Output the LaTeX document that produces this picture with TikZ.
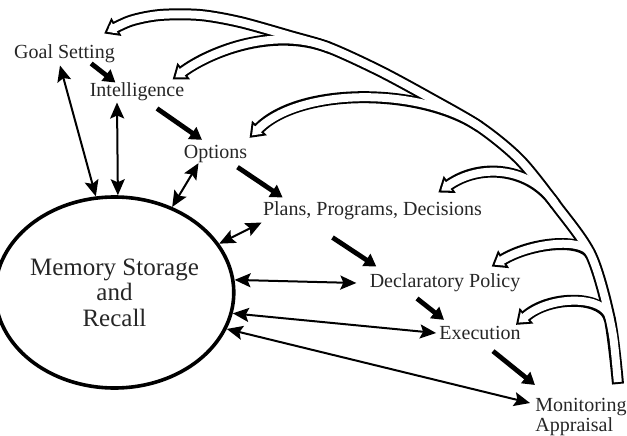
\documentclass[tikz,border=0pt]{standalone}
\usepackage{fontspec}
\setmainfont{Liberation Serif}
\usetikzlibrary{arrows.meta,shapes.geometric}

\tikzset{
  lbl/.style={inner sep=0pt, font=\fontsize{10}{9}\selectfont, text=black!85},
  flow/.style={line width=2.4pt, -{Triangle[length=6pt,width=7pt]}},
  link/.style={line width=1pt, {Stealth[length=8pt,width=7pt,inset=1.5pt]}-{Stealth[length=8pt,width=7pt,inset=1.5pt]}},
  fbout/.style={line width=6pt, -{Triangle[length=7pt,width=10pt]}},
  fbin/.style={white, line width=4pt, shorten <=1pt, shorten >=1.72pt, -{Triangle[length=4.28pt,width=6.1pt]}}
}

\begin{document}
\begin{tikzpicture}[x=0.5pt,y=0.5pt]
\useasboundingbox (0,0) rectangle (627,435);

\node[lbl] (goal) at (64.5,381) {Goal Setting};
\node[lbl] (intel) at (137,343) {Intelligence};
\node[lbl] (options) at (215.5,281) {Options};
\node[lbl] (plans) at (372.5,224) {Plans, Programs, Decisions};
\node[lbl] (decl) at (445,152) {Declaratory Policy};
\node[lbl] (exec) at (480,102) {Execution};
\node[lbl, align=left, anchor=north west] (monit) at (535,37) {Monitoring\\Appraisal};
\node[draw, ellipse, line width=1.8pt, minimum width=105.5pt, minimum height=95.5pt, inner sep=0pt,
      align=center, text=black!85, font=\fontsize{12.5}{12.75}\selectfont] (mem) at (114.5,142.5)
      {Memory Storage\\and\\Recall};

% flow of the process
\path[flow]
([xshift=-12pt]goal.south east) edge ([xshift=13pt]intel.north west)
([xshift=10pt,yshift=-3.5pt]intel.south) edge ([xshift=-6.75pt,yshift=2.5pt]options.north)
([xshift=11pt,yshift=-2pt]options.south) edge ([xshift=10pt,yshift=2pt]plans.north west)
([xshift=-20pt,yshift=-8.5pt]plans.south) edge ([xshift=3.5pt,yshift=3.5pt]decl.north west)
([xshift=-14pt,yshift=-3pt]decl.south) edge ([xshift=2.5pt,yshift=3pt]exec.north west)
([xshift=6.5pt,yshift=-5.5pt]exec.south) edge ([xshift=0pt,yshift=6.5pt]monit.north west);

% links with memory
\path[link]
([xshift=-2.25pt,yshift=-1pt]goal.south) edge (mem.101)
([xshift=-10pt,yshift=-0.5pt]intel.south) edge (mem.88.5)
([xshift=-8.5pt]options.south) edge (mem.56)
([xshift=-0.5pt,yshift=-1pt]plans.south west) edge (mem.25)
([xshift=-6.5pt]decl.west) edge (mem.6.6)
([xshift=-1.5pt]exec.west) edge (mem.-10)
([xshift=-2.5pt,yshift=-2.5pt]monit.north west) edge (mem.-18.6);

% feedback band
\coordinate (fb0) at ([xshift=41.5pt,yshift=7pt]monit.north west);
\coordinate (fb1) at (610,115);
\coordinate (fb2) at (591,180);
\coordinate (fb3) at (556,230);
\coordinate (fb5) at (480,308);
\coordinate (fb8) at (330,387);
\coordinate (tipgoal) at ([xshift=-5.5pt,yshift=5.5pt]goal.north east);
\coordinate (tipintel) at ([xshift=-6pt,yshift=1.5pt]intel.north east);
\coordinate (tipopt) at ([xshift=1pt,yshift=3.5pt]options.north east);
\coordinate (tipplans) at ([xshift=-22pt,yshift=4.5pt]plans.north east);
\coordinate (tipdecl) at ([xshift=-14.5pt,yshift=3.5pt]decl.north east);
\coordinate (tipexec) at ([xshift=-2.5pt,yshift=0.5pt]exec.north east);

\foreach \lay in {fbout,fbin} {
  \draw[\lay] plot[smooth] coordinates {(fb0) (fb1) (fb2) (fb3) (520,275) (fb5) (430,337) (380,364)
      (fb8) (290,399) (240,413) (200,420) (160,420) (130,414) (tipgoal)};
  \draw[\lay] (fb1) .. controls (605,140) and (550,140) .. (tipexec);
  \draw[\lay] (fb2) .. controls (582,198) and (530,192) .. (tipdecl);
  \draw[\lay] (fb3) .. controls (530,268) and (480,272) .. (tipplans);
  \draw[\lay] (fb5) .. controls (420,348) and (300,348) .. (tipopt);
  \draw[\lay] (fb8) .. controls (270,410) and (205,380) .. (tipintel);
}
\end{tikzpicture}
\end{document}
